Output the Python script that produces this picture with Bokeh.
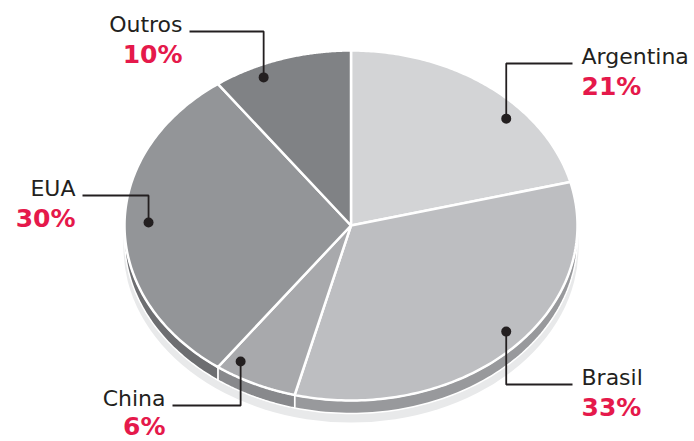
import numpy as np
from bokeh.plotting import figure
from bokeh.models import Range1d
from bokeh.embed import file_html
from bokeh.resources import INLINE
from bokeh.core.properties import value

# ---- data ----
categories = ["Argentina", "Brasil", "China", "EUA", "Outros"]
shares = [21, 33, 6, 30, 10]
pct_labels = ["21%", "33%", "6%", "30%", "10%"]

# ---- styles ----
top_colors = ["#d3d4d6", "#bdbec1", "#a8a9ac", "#939598", "#808285"]
side_colors = ["#b0b1b4", "#98999c", "#88898c", "#6d6e71", "#5f6063"]
shadow_color = "#e8e9ea"
ink = "#231f20"
red = "#e5194b"

# ---- geometry (layout) ----
CX, CY, RX, RY = 350.5, 225.0, 226.5, 175.0
DEPTH = 13.0
SHADOW = 22.0
TEXT_DY = -9.0   # correction for the renderer's baseline placement

# label layout: side, text x, name baseline, pct gap, dot angle nudge (deg), dot radius fraction
label_layout = {
    "Argentina": ("right", 581, 65, 30, 10.5, 0.918),
    "Brasil": ("right", 581, 386, 30, -3.5, 0.915),
    "China": ("left", 165, 407, 28, 6.9, 0.917),
    "EUA": ("left", 75, 197, 30, 1.1, 0.894),
    "Outros": ("left", 182, 33, 30, -6.5, 0.93),
}


def ell(theta_deg, rfrac=1.0, dy=0.0):
    t = np.radians(theta_deg)
    return CX + rfrac * RX * np.sin(t), CY - rfrac * RY * np.cos(t) + dy


p = figure(width=694, height=441, x_range=Range1d(0, 694), y_range=Range1d(441, 0),
           output_backend="svg", toolbar_location=None, min_border=0)
p.axis.visible = False
p.grid.visible = False
p.outline_line_color = None
p.background_fill_color = "white"
p.border_fill_color = "white"

total = float(sum(shares))
bounds = np.concatenate([[0.0], np.cumsum(shares) / total * 360.0])

# shadow
p.ellipse(x=[CX], y=[CY + SHADOW], width=[2 * RX + 2], height=[2 * RY],
          fill_color=shadow_color, line_color=None)

# side band (front half only: 90..270 deg)
bxs, bys, bcols = [], [], []
for i in range(len(shares)):
    a0, a1 = max(bounds[i], 90.0), min(bounds[i + 1], 270.0)
    if a1 <= a0:
        continue
    th = np.linspace(a0, a1, 80)
    x1, y1 = ell(th)
    x2, y2 = ell(th[::-1], dy=DEPTH)
    bxs.append(list(np.concatenate([x1, x2])))
    bys.append(list(np.concatenate([y1, y2])))
    bcols.append(side_colors[i])
p.patches(xs=bxs, ys=bys, fill_color=bcols, line_color="white", line_width=1.5,
          line_join="round")

# top face slices
txs, tys = [], []
for i in range(len(shares)):
    th = np.linspace(bounds[i], bounds[i + 1], 120)
    x, y = ell(th)
    txs.append([CX] + list(x))
    tys.append([CY] + list(y))
p.patches(xs=txs, ys=tys, fill_color=top_colors, line_color="white", line_width=2.5,
          line_join="round")

# labels, leaders, dots
dot_x, dot_y, lead_xs, lead_ys = [], [], [], []
for i, cat in enumerate(categories):
    side, tx, base, gap, nudge, rf = label_layout[cat]
    mid = (bounds[i] + bounds[i + 1]) / 2.0 + nudge
    dx, dy = ell(mid, rfrac=rf)
    dot_x.append(dx)
    dot_y.append(dy)
    ly = base - 2
    end_x = tx - 9 if side == "right" else tx + 7
    lead_xs.append([dx, dx, end_x])
    lead_ys.append([dy, ly, ly])
    align = "left" if side == "right" else "right"
    p.text(x=[tx], y=[base + TEXT_DY], text=[cat], text_font=value("DejaVu Sans"),
           text_font_size="22px", text_color=ink, text_align=align,
           text_baseline="alphabetic")
    p.text(x=[tx], y=[base + gap + TEXT_DY], text=[pct_labels[i]],
           text_font=value("DejaVu Sans"), text_font_style="bold",
           text_font_size="25px", text_color=red, text_align=align,
           text_baseline="alphabetic")

p.multi_line(xs=lead_xs, ys=lead_ys, line_color=ink, line_width=1.8)
p.scatter(x=dot_x, y=dot_y, size=10, fill_color=ink, line_color=None)

open("out.html", "w").write(file_html(p, INLINE))
